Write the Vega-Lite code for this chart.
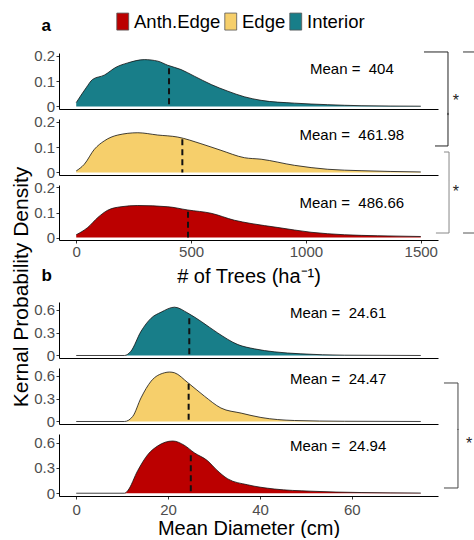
{
  "$schema": "https://vega.github.io/schema/vega-lite/v6.json",
  "padding": {"left": 10, "top": 12, "right": 0, "bottom": 0},
  "background": "white",
  "bounds": "flush",
  "spacing": 10,
  "datasets": {
    "trees": [
      {"g": "Interior", "x": 0, "d": 0.015}, {"g": "Interior", "x": 43, "d": 0.073}, {"g": "Interior", "x": 71, "d": 0.106}, {"g": "Interior", "x": 122, "d": 0.123}, {"g": "Interior", "x": 173, "d": 0.154}, {"g": "Interior", "x": 224, "d": 0.171}, {"g": "Interior", "x": 297, "d": 0.184}, {"g": "Interior", "x": 355, "d": 0.178}, {"g": "Interior", "x": 398, "d": 0.162}, {"g": "Interior", "x": 456, "d": 0.145}, {"g": "Interior", "x": 514, "d": 0.119}, {"g": "Interior", "x": 588, "d": 0.086}, {"g": "Interior", "x": 660, "d": 0.06}, {"g": "Interior", "x": 732, "d": 0.038}, {"g": "Interior", "x": 805, "d": 0.024}, {"g": "Interior", "x": 950, "d": 0.013}, {"g": "Interior", "x": 1095, "d": 0.007}, {"g": "Interior", "x": 1240, "d": 0.003}, {"g": "Interior", "x": 1500, "d": 0.001},
      {"g": "Edge", "x": 0, "d": 0.006}, {"g": "Edge", "x": 35, "d": 0.032}, {"g": "Edge", "x": 79, "d": 0.091}, {"g": "Edge", "x": 122, "d": 0.124}, {"g": "Edge", "x": 181, "d": 0.147}, {"g": "Edge", "x": 268, "d": 0.156}, {"g": "Edge", "x": 355, "d": 0.147}, {"g": "Edge", "x": 442, "d": 0.139}, {"g": "Edge", "x": 543, "d": 0.113}, {"g": "Edge", "x": 630, "d": 0.087}, {"g": "Edge", "x": 732, "d": 0.058}, {"g": "Edge", "x": 805, "d": 0.052}, {"g": "Edge", "x": 950, "d": 0.028}, {"g": "Edge", "x": 1095, "d": 0.0125}, {"g": "Edge", "x": 1240, "d": 0.007}, {"g": "Edge", "x": 1500, "d": 0.002},
      {"g": "Anth.Edge", "x": 0, "d": 0.011}, {"g": "Anth.Edge", "x": 50, "d": 0.04}, {"g": "Anth.Edge", "x": 94, "d": 0.08}, {"g": "Anth.Edge", "x": 137, "d": 0.109}, {"g": "Anth.Edge", "x": 195, "d": 0.123}, {"g": "Anth.Edge", "x": 268, "d": 0.128}, {"g": "Anth.Edge", "x": 399, "d": 0.123}, {"g": "Anth.Edge", "x": 486, "d": 0.11}, {"g": "Anth.Edge", "x": 587, "d": 0.097}, {"g": "Anth.Edge", "x": 689, "d": 0.069}, {"g": "Anth.Edge", "x": 761, "d": 0.056}, {"g": "Anth.Edge", "x": 878, "d": 0.04}, {"g": "Anth.Edge", "x": 1022, "d": 0.021}, {"g": "Anth.Edge", "x": 1168, "d": 0.011}, {"g": "Anth.Edge", "x": 1313, "d": 0.007}, {"g": "Anth.Edge", "x": 1500, "d": 0.004}
    ],
    "diam": [
      {"g": "Interior", "x": 0, "d": 0}, {"g": "Interior", "x": 10.5, "d": 0}, {"g": "Interior", "x": 11.9, "d": 0.056}, {"g": "Interior", "x": 14.1, "d": 0.317}, {"g": "Interior", "x": 16.3, "d": 0.49}, {"g": "Interior", "x": 18.5, "d": 0.57}, {"g": "Interior", "x": 21.4, "d": 0.635}, {"g": "Interior", "x": 24.3, "d": 0.557}, {"g": "Interior", "x": 27.2, "d": 0.447}, {"g": "Interior", "x": 30.8, "d": 0.296}, {"g": "Interior", "x": 35.2, "d": 0.143}, {"g": "Interior", "x": 38.8, "d": 0.087}, {"g": "Interior", "x": 43.1, "d": 0.048}, {"g": "Interior", "x": 48.9, "d": 0.022}, {"g": "Interior", "x": 58.4, "d": 0.004}, {"g": "Interior", "x": 75, "d": 0},
      {"g": "Edge", "x": 0, "d": 0}, {"g": "Edge", "x": 10.5, "d": 0}, {"g": "Edge", "x": 12.3, "d": 0.067}, {"g": "Edge", "x": 14.1, "d": 0.31}, {"g": "Edge", "x": 16.3, "d": 0.53}, {"g": "Edge", "x": 19.2, "d": 0.64}, {"g": "Edge", "x": 20.3, "d": 0.65}, {"g": "Edge", "x": 21.4, "d": 0.64}, {"g": "Edge", "x": 24.3, "d": 0.51}, {"g": "Edge", "x": 27.9, "d": 0.333}, {"g": "Edge", "x": 31.5, "d": 0.177}, {"g": "Edge", "x": 35.9, "d": 0.11}, {"g": "Edge", "x": 40.2, "d": 0.053}, {"g": "Edge", "x": 47.5, "d": 0.013}, {"g": "Edge", "x": 58.4, "d": 0.003}, {"g": "Edge", "x": 75, "d": 0},
      {"g": "Anth.Edge", "x": 0, "d": 0}, {"g": "Anth.Edge", "x": 10.5, "d": 0}, {"g": "Anth.Edge", "x": 11.2, "d": 0.03}, {"g": "Anth.Edge", "x": 13.4, "d": 0.27}, {"g": "Anth.Edge", "x": 15.6, "d": 0.46}, {"g": "Anth.Edge", "x": 17.7, "d": 0.56}, {"g": "Anth.Edge", "x": 21, "d": 0.62}, {"g": "Anth.Edge", "x": 23.5, "d": 0.57}, {"g": "Anth.Edge", "x": 25.7, "d": 0.48}, {"g": "Anth.Edge", "x": 28.6, "d": 0.385}, {"g": "Anth.Edge", "x": 30.5, "d": 0.28}, {"g": "Anth.Edge", "x": 33, "d": 0.17}, {"g": "Anth.Edge", "x": 37.3, "d": 0.1}, {"g": "Anth.Edge", "x": 43.1, "d": 0.05}, {"g": "Anth.Edge", "x": 51.1, "d": 0.024}, {"g": "Anth.Edge", "x": 62, "d": 0.008}, {"g": "Anth.Edge", "x": 75, "d": 0.002}
    ],
    "means": [
      {"p": "a", "g": "Interior", "m": 404, "top": 0.15, "lab": "Mean = \u00a0404"},
      {"p": "a", "g": "Edge", "m": 461.98, "top": 0.13, "lab": "Mean = \u00a0461.98"},
      {"p": "a", "g": "Anth.Edge", "m": 486.66, "top": 0.103, "lab": "Mean = \u00a0486.66"},
      {"p": "b", "g": "Interior", "m": 24.61, "top": 0.49, "lab": "Mean = \u00a024.61"},
      {"p": "b", "g": "Edge", "m": 24.47, "top": 0.497, "lab": "Mean = \u00a024.47"},
      {"p": "b", "g": "Anth.Edge", "m": 24.94, "top": 0.45, "lab": "Mean = \u00a024.94"}
    ]
  },
  "vconcat": [
    {
      "width": 379, "height": 56,
      "title": {"text": "a", "anchor": "start", "frame": "group", "fontSize": 17, "fontWeight": "bold", "font": "Liberation Sans", "color": "#000000", "dx": -17.5, "offset": 14},
      "layer": [
        {"data": {"name": "trees"}, "transform": [{"filter": "datum.g === 'Interior'"}],
         "mark": {"type": "area", "interpolate": "monotone", "opacity": 1},
         "encoding": {
           "x": {"field": "x", "type": "quantitative", "scale": {"domain": [-75, 1575], "nice": false, "zero": false}, "axis": {"labels": false, "ticks": false, "title": null}},
           "y": {"field": "d", "type": "quantitative", "stack": null, "scale": {"domain": [-0.01, 0.21], "nice": false, "zero": false}, "axis": {"values": [0, 0.1, 0.2], "tickCount": 6, "format": "~g", "title": null, "labelOverlap": false, "labelFlush": false}},
           "y2": {"datum": 0},
           "fill": {"field": "g", "type": "nominal", "scale": {"domain": ["Anth.Edge", "Edge", "Interior"], "range": ["#BB0000", "#F6CF6B", "#187E89"]},
             "legend": {"orient": "none", "legendX": 54.5, "legendY": -41, "direction": "horizontal", "title": null, "symbolType": "M-0.7,-1H0.7V1H-0.7Z", "symbolSize": 289, "symbolStrokeColor": "#555555", "symbolStrokeWidth": 0.8, "symbolOpacity": 1, "labelFont": "Liberation Sans", "labelFontSize": 18.5, "labelColor": "#000000", "labelOffset": 2, "columnPadding": 1, "padding": 0}}
         }},
        {"data": {"name": "trees"}, "transform": [{"filter": "datum.g === 'Interior'"}],
         "mark": {"type": "line", "interpolate": "monotone", "color": "#111111", "strokeWidth": 0.8},
         "encoding": {"x": {"field": "x", "type": "quantitative"}, "y": {"field": "d", "type": "quantitative"}}},
        {"data": {"name": "means"}, "transform": [{"filter": "datum.p === 'a' && datum.g === 'Interior'"}],
         "mark": {"type": "rule", "strokeDash": [6, 4], "strokeWidth": 2, "color": "#111111"},
         "encoding": {"x": {"field": "m", "type": "quantitative"}, "y": {"field": "top", "type": "quantitative"}, "y2": {"datum": 0}}},
        {"data": {"name": "means"}, "transform": [{"filter": "datum.p === 'a' && datum.g === 'Interior'"}],
         "mark": {"type": "text", "fontSize": 15, "font": "Liberation Sans", "color": "#000000", "baseline": "alphabetic", "dy": 5},
         "encoding": {"x": {"datum": 1200, "type": "quantitative"}, "y": {"datum": 0.147, "type": "quantitative"}, "text": {"field": "lab", "type": "nominal"}}},
        {"data": {"values": [{"k": 1}]}, "mark": {"type": "rule", "color": "#222222", "strokeWidth": 1},
         "encoding": {"x": {"datum": 1514, "type": "quantitative"}, "x2": {"datum": 1618.5}, "y": {"datum": 0.214, "type": "quantitative"}}},
        {"data": {"values": [{"k": 1}]}, "mark": {"type": "rule", "color": "#222222", "strokeWidth": 1},
         "encoding": {"x": {"datum": 1618.5, "type": "quantitative"}, "y": {"datum": 0.214, "type": "quantitative"}, "y2": {"datum": -0.034}}},
        {"data": {"values": [{"k": 1}]}, "mark": {"type": "rule", "color": "#333333", "strokeWidth": 1},
         "encoding": {"x": {"datum": 1684, "type": "quantitative"}, "x2": {"datum": 1736}, "y": {"datum": 0.214, "type": "quantitative"}}},
        {"data": {"values": [{"k": 1}]}, "mark": {"type": "text", "text": "*", "fontSize": 16, "color": "#222222", "baseline": "alphabetic", "dy": 9},
         "encoding": {"x": {"datum": 1653, "type": "quantitative"}, "y": {"datum": 0.037, "type": "quantitative"}}}
      ]
    },
    {
      "width": 379, "height": 56,
      "layer": [
        {"data": {"name": "trees"}, "transform": [{"filter": "datum.g === 'Edge'"}],
         "mark": {"type": "area", "interpolate": "monotone", "opacity": 1},
         "encoding": {
           "x": {"field": "x", "type": "quantitative", "scale": {"domain": [-75, 1575], "nice": false, "zero": false}, "axis": {"labels": false, "ticks": false, "title": null}},
           "y": {"field": "d", "type": "quantitative", "stack": null, "scale": {"domain": [-0.01, 0.21], "nice": false, "zero": false}, "axis": {"values": [0, 0.1, 0.2], "tickCount": 6, "format": "~g", "labelOverlap": false, "labelFlush": false, "title": "Kernal Probability Density", "titleFontSize": 21, "titleX": -38, "titleY": 167.5, "titleAngle": -90, "titleAlign": "center", "titleBaseline": "middle"}},
           "y2": {"datum": 0},
           "fill": {"field": "g", "type": "nominal", "scale": {"domain": ["Anth.Edge", "Edge", "Interior"], "range": ["#BB0000", "#F6CF6B", "#187E89"]}}
         }},
        {"data": {"name": "trees"}, "transform": [{"filter": "datum.g === 'Edge'"}],
         "mark": {"type": "line", "interpolate": "monotone", "color": "#111111", "strokeWidth": 0.8},
         "encoding": {"x": {"field": "x", "type": "quantitative"}, "y": {"field": "d", "type": "quantitative"}}},
        {"data": {"name": "means"}, "transform": [{"filter": "datum.p === 'a' && datum.g === 'Edge'"}],
         "mark": {"type": "rule", "strokeDash": [6, 4], "strokeWidth": 2, "color": "#111111"},
         "encoding": {"x": {"field": "m", "type": "quantitative"}, "y": {"field": "top", "type": "quantitative"}, "y2": {"datum": 0}}},
        {"data": {"name": "means"}, "transform": [{"filter": "datum.p === 'a' && datum.g === 'Edge'"}],
         "mark": {"type": "text", "fontSize": 15, "font": "Liberation Sans", "color": "#000000", "baseline": "alphabetic", "dy": 5},
         "encoding": {"x": {"datum": 1200, "type": "quantitative"}, "y": {"datum": 0.147, "type": "quantitative"}, "text": {"field": "lab", "type": "nominal"}}},
        {"data": {"values": [{"k": 1}]}, "mark": {"type": "rule", "color": "#222222", "strokeWidth": 1},
         "encoding": {"x": {"datum": 1618.5, "type": "quantitative"}, "y": {"datum": 0.234, "type": "quantitative"}, "y2": {"datum": 0.104}}},
        {"data": {"values": [{"k": 1}]}, "mark": {"type": "rule", "color": "#222222", "strokeWidth": 1},
         "encoding": {"x": {"datum": 1562, "type": "quantitative"}, "x2": {"datum": 1618.5}, "y": {"datum": 0.104, "type": "quantitative"}}},
        {"data": {"values": [{"k": 1}]}, "mark": {"type": "rule", "color": "#888888", "strokeWidth": 1},
         "encoding": {"x": {"datum": 1601, "type": "quantitative"}, "x2": {"datum": 1623}, "y": {"datum": 0.0803, "type": "quantitative"}}},
        {"data": {"values": [{"k": 1}]}, "mark": {"type": "rule", "color": "#888888", "strokeWidth": 1},
         "encoding": {"x": {"datum": 1623, "type": "quantitative"}, "y": {"datum": 0.0803, "type": "quantitative"}, "y2": {"datum": -0.03}}}
      ]
    },
    {
      "width": 379, "height": 55,
      "layer": [
        {"data": {"name": "trees"}, "transform": [{"filter": "datum.g === 'Anth.Edge'"}],
         "mark": {"type": "area", "interpolate": "monotone", "opacity": 1},
         "encoding": {
           "x": {"field": "x", "type": "quantitative", "scale": {"domain": [-75, 1575], "nice": false, "zero": false}, "axis": {"values": [0, 500, 1000, 1500], "tickCount": 10, "format": "d", "labelOverlap": false, "title": "# of Trees (ha\u207b\u00b9)", "titleFontSize": 20, "titlePadding": 7}},
           "y": {"field": "d", "type": "quantitative", "stack": null, "scale": {"domain": [-0.01, 0.21], "nice": false, "zero": false}, "axis": {"values": [0, 0.1, 0.2], "tickCount": 6, "format": "~g", "title": null, "labelOverlap": false, "labelFlush": false}},
           "y2": {"datum": 0},
           "fill": {"field": "g", "type": "nominal", "scale": {"domain": ["Anth.Edge", "Edge", "Interior"], "range": ["#BB0000", "#F6CF6B", "#187E89"]}}
         }},
        {"data": {"name": "trees"}, "transform": [{"filter": "datum.g === 'Anth.Edge'"}],
         "mark": {"type": "line", "interpolate": "monotone", "color": "#111111", "strokeWidth": 0.8},
         "encoding": {"x": {"field": "x", "type": "quantitative"}, "y": {"field": "d", "type": "quantitative"}}},
        {"data": {"name": "means"}, "transform": [{"filter": "datum.p === 'a' && datum.g === 'Anth.Edge'"}],
         "mark": {"type": "rule", "strokeDash": [6, 4], "strokeWidth": 2, "color": "#111111"},
         "encoding": {"x": {"field": "m", "type": "quantitative"}, "y": {"field": "top", "type": "quantitative"}, "y2": {"datum": 0}}},
        {"data": {"name": "means"}, "transform": [{"filter": "datum.p === 'a' && datum.g === 'Anth.Edge'"}],
         "mark": {"type": "text", "fontSize": 15, "font": "Liberation Sans", "color": "#000000", "baseline": "alphabetic", "dy": 5},
         "encoding": {"x": {"datum": 1200, "type": "quantitative"}, "y": {"datum": 0.138, "type": "quantitative"}, "text": {"field": "lab", "type": "nominal"}}},
        {"data": {"values": [{"k": 1}]}, "mark": {"type": "rule", "color": "#888888", "strokeWidth": 1},
         "encoding": {"x": {"datum": 1623, "type": "quantitative"}, "y": {"datum": 0.23, "type": "quantitative"}, "y2": {"datum": 0.018}}},
        {"data": {"values": [{"k": 1}]}, "mark": {"type": "rule", "color": "#888888", "strokeWidth": 1},
         "encoding": {"x": {"datum": 1566, "type": "quantitative"}, "x2": {"datum": 1623}, "y": {"datum": 0.018, "type": "quantitative"}}},
        {"data": {"values": [{"k": 1}]}, "mark": {"type": "rule", "color": "#555555", "strokeWidth": 1},
         "encoding": {"x": {"datum": 1684, "type": "quantitative"}, "x2": {"datum": 1736}, "y": {"datum": 0.018, "type": "quantitative"}}},
        {"data": {"values": [{"k": 1}]}, "mark": {"type": "text", "text": "*", "fontSize": 16, "color": "#222222", "baseline": "alphabetic", "dy": 9},
         "encoding": {"x": {"datum": 1653, "type": "quantitative"}, "y": {"datum": 0.198, "type": "quantitative"}}}
      ]
    },
    {
      "width": 379, "height": 42,
      "data": {"values": [{"k": 1}]},
      "mark": {"type": "point", "opacity": 0}
    },
    {
      "width": 379, "height": 56,
      "title": {"text": "b", "anchor": "start", "frame": "group", "fontSize": 17, "fontWeight": "bold", "font": "Liberation Sans", "color": "#000000", "dx": -17.5, "offset": 17},
      "layer": [
        {"data": {"name": "diam"}, "transform": [{"filter": "datum.g === 'Interior'"}],
         "mark": {"type": "area", "interpolate": "monotone", "opacity": 1},
         "encoding": {
           "x": {"field": "x", "type": "quantitative", "scale": {"domain": [-3.75, 78.75], "nice": false, "zero": false}, "axis": {"labels": false, "ticks": false, "title": null}},
           "y": {"field": "d", "type": "quantitative", "stack": null, "scale": {"domain": [-0.033, 0.703], "nice": false, "zero": false}, "axis": {"values": [0, 0.3, 0.6], "tickCount": 6, "format": "~g", "title": null, "labelOverlap": false, "labelFlush": false}},
           "y2": {"datum": 0},
           "fill": {"field": "g", "type": "nominal", "scale": {"domain": ["Anth.Edge", "Edge", "Interior"], "range": ["#BB0000", "#F6CF6B", "#187E89"]}}
         }},
        {"data": {"name": "diam"}, "transform": [{"filter": "datum.g === 'Interior'"}],
         "mark": {"type": "line", "interpolate": "monotone", "color": "#111111", "strokeWidth": 0.8},
         "encoding": {"x": {"field": "x", "type": "quantitative"}, "y": {"field": "d", "type": "quantitative"}}},
        {"data": {"name": "means"}, "transform": [{"filter": "datum.p === 'b' && datum.g === 'Interior'"}],
         "mark": {"type": "rule", "strokeDash": [6, 4], "strokeWidth": 2, "color": "#111111"},
         "encoding": {"x": {"field": "m", "type": "quantitative"}, "y": {"field": "top", "type": "quantitative"}, "y2": {"datum": 0}}},
        {"data": {"name": "means"}, "transform": [{"filter": "datum.p === 'b' && datum.g === 'Interior'"}],
         "mark": {"type": "text", "fontSize": 15, "font": "Liberation Sans", "color": "#000000", "baseline": "alphabetic", "dy": 5},
         "encoding": {"x": {"datum": 57, "type": "quantitative"}, "y": {"datum": 0.565, "type": "quantitative"}, "text": {"field": "lab", "type": "nominal"}}}
      ]
    },
    {
      "width": 379, "height": 56,
      "layer": [
        {"data": {"name": "diam"}, "transform": [{"filter": "datum.g === 'Edge'"}],
         "mark": {"type": "area", "interpolate": "monotone", "opacity": 1},
         "encoding": {
           "x": {"field": "x", "type": "quantitative", "scale": {"domain": [-3.75, 78.75], "nice": false, "zero": false}, "axis": {"labels": false, "ticks": false, "title": null}},
           "y": {"field": "d", "type": "quantitative", "stack": null, "scale": {"domain": [-0.033, 0.703], "nice": false, "zero": false}, "axis": {"values": [0, 0.3, 0.6], "tickCount": 6, "format": "~g", "title": null, "labelOverlap": false, "labelFlush": false}},
           "y2": {"datum": 0},
           "fill": {"field": "g", "type": "nominal", "scale": {"domain": ["Anth.Edge", "Edge", "Interior"], "range": ["#BB0000", "#F6CF6B", "#187E89"]}}
         }},
        {"data": {"name": "diam"}, "transform": [{"filter": "datum.g === 'Edge'"}],
         "mark": {"type": "line", "interpolate": "monotone", "color": "#111111", "strokeWidth": 0.8},
         "encoding": {"x": {"field": "x", "type": "quantitative"}, "y": {"field": "d", "type": "quantitative"}}},
        {"data": {"name": "means"}, "transform": [{"filter": "datum.p === 'b' && datum.g === 'Edge'"}],
         "mark": {"type": "rule", "strokeDash": [6, 4], "strokeWidth": 2, "color": "#111111"},
         "encoding": {"x": {"field": "m", "type": "quantitative"}, "y": {"field": "top", "type": "quantitative"}, "y2": {"datum": 0}}},
        {"data": {"name": "means"}, "transform": [{"filter": "datum.p === 'b' && datum.g === 'Edge'"}],
         "mark": {"type": "text", "fontSize": 15, "font": "Liberation Sans", "color": "#000000", "baseline": "alphabetic", "dy": 5},
         "encoding": {"x": {"datum": 57, "type": "quantitative"}, "y": {"datum": 0.565, "type": "quantitative"}, "text": {"field": "lab", "type": "nominal"}}},
        {"data": {"values": [{"k": 1}]}, "mark": {"type": "rule", "color": "#444444", "strokeWidth": 1},
         "encoding": {"x": {"datum": 80.05, "type": "quantitative"}, "x2": {"datum": 83.1}, "y": {"datum": 0.506, "type": "quantitative"}}},
        {"data": {"values": [{"k": 1}]}, "mark": {"type": "rule", "color": "#444444", "strokeWidth": 1},
         "encoding": {"x": {"datum": 83.1, "type": "quantitative"}, "y": {"datum": 0.506, "type": "quantitative"}, "y2": {"datum": -0.112}}}
      ]
    },
    {
      "width": 379, "height": 62,
      "layer": [
        {"data": {"name": "diam"}, "transform": [{"filter": "datum.g === 'Anth.Edge'"}],
         "mark": {"type": "area", "interpolate": "monotone", "opacity": 1},
         "encoding": {
           "x": {"field": "x", "type": "quantitative", "scale": {"domain": [-3.75, 78.75], "nice": false, "zero": false}, "axis": {"values": [0, 20, 40, 60], "tickCount": 10, "format": "d", "labelOverlap": false, "title": "Mean Diameter (cm)", "titleFontSize": 20, "labelPadding": 3, "titlePadding": 1}},
           "y": {"field": "d", "type": "quantitative", "stack": null, "scale": {"domain": [-0.033, 0.703], "nice": false, "zero": false}, "axis": {"values": [0, 0.3, 0.6], "tickCount": 6, "format": "~g", "title": null, "labelOverlap": false, "labelFlush": false}},
           "y2": {"datum": 0},
           "fill": {"field": "g", "type": "nominal", "scale": {"domain": ["Anth.Edge", "Edge", "Interior"], "range": ["#BB0000", "#F6CF6B", "#187E89"]}}
         }},
        {"data": {"name": "diam"}, "transform": [{"filter": "datum.g === 'Anth.Edge'"}],
         "mark": {"type": "line", "interpolate": "monotone", "color": "#111111", "strokeWidth": 0.8},
         "encoding": {"x": {"field": "x", "type": "quantitative"}, "y": {"field": "d", "type": "quantitative"}}},
        {"data": {"name": "means"}, "transform": [{"filter": "datum.p === 'b' && datum.g === 'Anth.Edge'"}],
         "mark": {"type": "rule", "strokeDash": [6, 4], "strokeWidth": 2, "color": "#111111"},
         "encoding": {"x": {"field": "m", "type": "quantitative"}, "y": {"field": "top", "type": "quantitative"}, "y2": {"datum": 0}}},
        {"data": {"name": "means"}, "transform": [{"filter": "datum.p === 'b' && datum.g === 'Anth.Edge'"}],
         "mark": {"type": "text", "fontSize": 15, "font": "Liberation Sans", "color": "#000000", "baseline": "alphabetic", "dy": 5},
         "encoding": {"x": {"datum": 57, "type": "quantitative"}, "y": {"datum": 0.565, "type": "quantitative"}, "text": {"field": "lab", "type": "nominal"}}},
        {"data": {"values": [{"k": 1}]}, "mark": {"type": "rule", "color": "#444444", "strokeWidth": 1},
         "encoding": {"x": {"datum": 83.1, "type": "quantitative"}, "y": {"datum": 0.763, "type": "quantitative"}, "y2": {"datum": 0.062}}},
        {"data": {"values": [{"k": 1}]}, "mark": {"type": "rule", "color": "#444444", "strokeWidth": 1},
         "encoding": {"x": {"datum": 80.05, "type": "quantitative"}, "x2": {"datum": 83.1}, "y": {"datum": 0.062, "type": "quantitative"}}},
        {"data": {"values": [{"k": 1}]}, "mark": {"type": "text", "text": "*", "fontSize": 16, "color": "#222222", "baseline": "alphabetic", "dy": 9},
         "encoding": {"x": {"datum": 85.5, "type": "quantitative"}, "y": {"datum": 0.632, "type": "quantitative"}}}
      ]
    }
  ],
  "config": {
    "font": "Liberation Sans",
    "view": {"stroke": null},
    "axis": {"labelFont": "Liberation Sans", "labelFontSize": 15, "labelColor": "#4D4D4D", "labelOverlap": false, "labelFlush": false, "titleFont": "Liberation Sans", "titleFontWeight": "normal", "titleColor": "#000000", "domainColor": "#000000", "domainWidth": 1, "tickColor": "#333333", "tickSize": 3, "grid": false, "labelPadding": 1.5}
  }
}
